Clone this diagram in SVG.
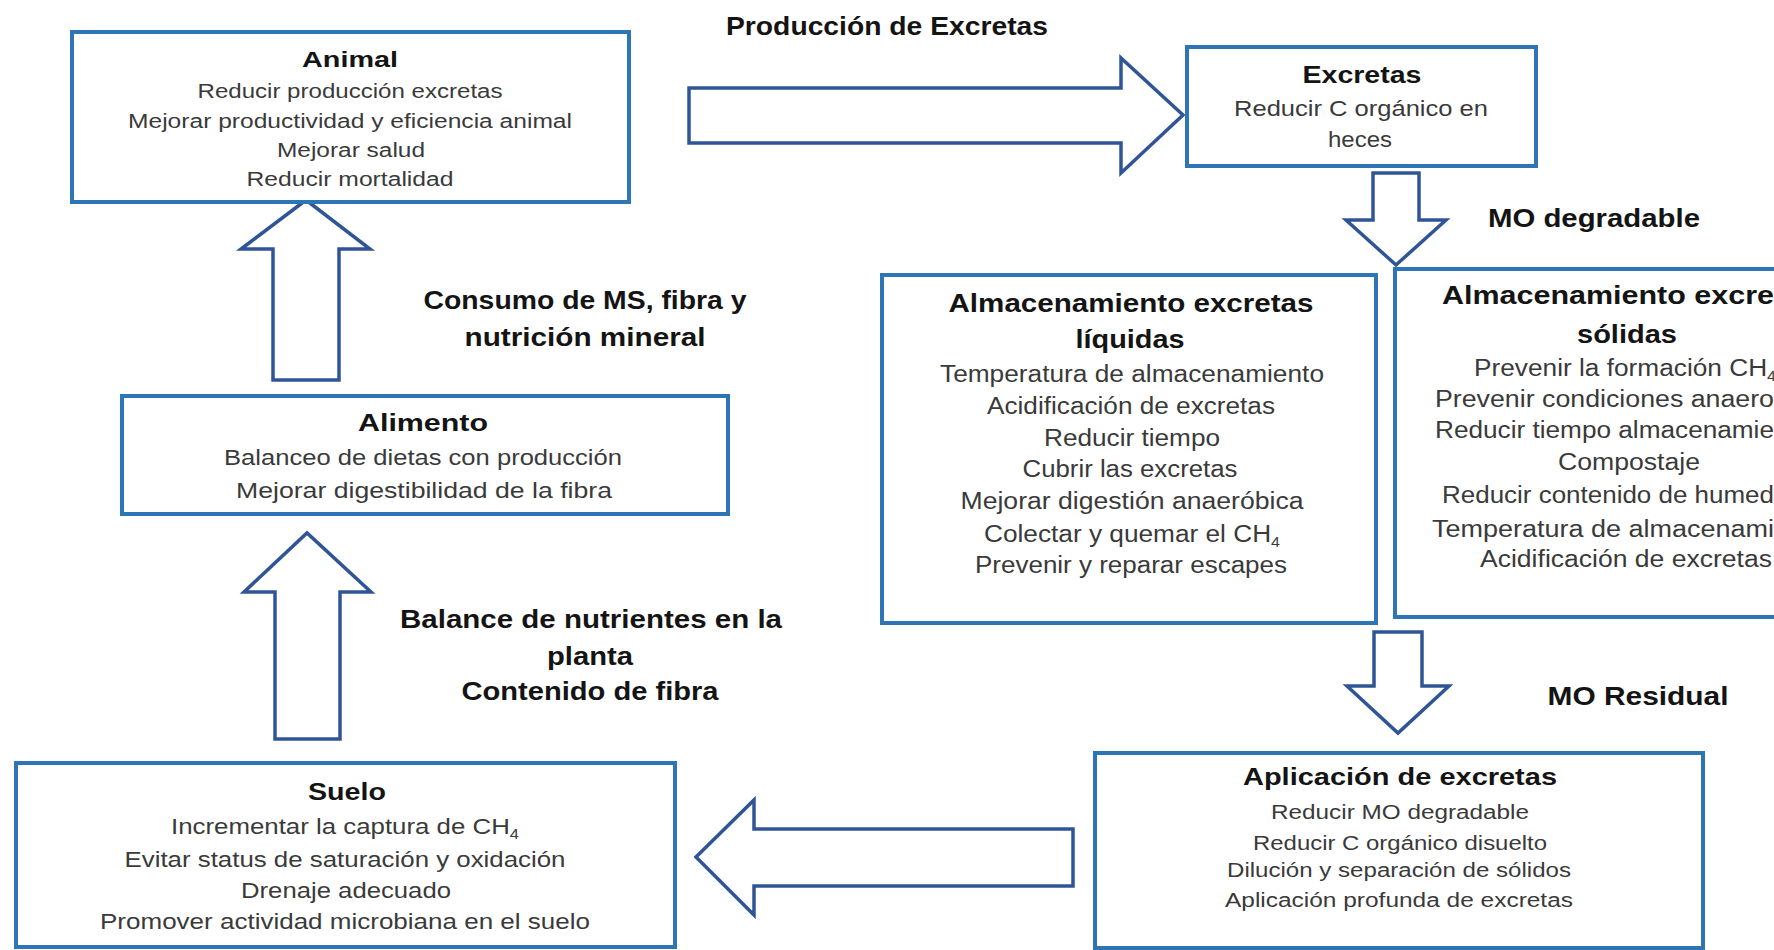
<svg xmlns="http://www.w3.org/2000/svg" width="1774" height="950" viewBox="0 0 1774 950">
<style>
.box{fill:#fff;stroke:#2E75B6;stroke-width:4}
.arr{fill:#fff;stroke:#2F5597;stroke-width:3.5;stroke-linejoin:miter}
text{font-family:"Liberation Sans",Arial,sans-serif;text-anchor:middle}
.t{font-weight:bold;fill:#141414}
.b{fill:#3a3a3a}
.lbl{font-weight:bold;fill:#141414;font-size:25px}
.st{text-anchor:start}
</style>
<rect x="0" y="0" width="1774" height="950" fill="#fff"/>

<g id="connectors">
  <path id="arrow-animal-excretas" class="arr" d="M689,88 L1121,88 L1121,58 L1183,115 L1121,173 L1121,143 L689,143 Z"/>
  <path id="arrow-excretas-almacenamiento" class="arr" d="M1373,173 L1419,173 L1419,220 L1446,220 L1396,265 L1346,220 L1373,220 Z"/>
  <path id="arrow-almacenamiento-aplicacion" class="arr" d="M1374,632 L1422,632 L1422,686 L1449,686 L1398,733 L1347,686 L1374,686 Z"/>
  <path id="arrow-aplicacion-suelo" class="arr" d="M1073,829 L754,829 L754,800 L696,857 L754,915 L754,886 L1073,886 Z"/>
  <path id="arrow-suelo-alimento" class="arr" d="M275,739 L275,592 L244,592 L307,533 L371,592 L340,592 L340,739 Z"/>
  <path id="arrow-alimento-animal" class="arr" d="M273,380 L273,249 L241,249 L306,200 L370,249 L339,249 L339,380 Z"/>
  <text class="lbl" x="887" y="35" textLength="322" lengthAdjust="spacingAndGlyphs">Producción de Excretas</text>
  <text class="lbl" x="1594" y="227" textLength="212" lengthAdjust="spacingAndGlyphs">MO degradable</text>
  <text class="lbl" x="1638" y="705" textLength="181" lengthAdjust="spacingAndGlyphs">MO Residual</text>
  <text class="lbl" x="585" y="309" textLength="323" lengthAdjust="spacingAndGlyphs">Consumo de MS, fibra y</text>
  <text class="lbl" x="585" y="346" textLength="241" lengthAdjust="spacingAndGlyphs">nutrición mineral</text>
  <text class="lbl" x="591" y="628" textLength="382" lengthAdjust="spacingAndGlyphs">Balance de nutrientes en  la</text>
  <text class="lbl" x="590" y="665" textLength="86" lengthAdjust="spacingAndGlyphs">planta</text>
  <text class="lbl" x="590" y="700" textLength="257" lengthAdjust="spacingAndGlyphs">Contenido de fibra</text>
</g>

<g id="animal">
  <rect class="box" x="72" y="32" width="557" height="170"/>
  <text class="t" x="350" y="67" font-size="22" textLength="96" lengthAdjust="spacingAndGlyphs">Animal</text>
  <text class="b" x="350" y="98" font-size="20" textLength="305" lengthAdjust="spacingAndGlyphs">Reducir producción excretas</text>
  <text class="b" x="350" y="128" font-size="20" textLength="444" lengthAdjust="spacingAndGlyphs">Mejorar productividad y eficiencia animal</text>
  <text class="b" x="351" y="157" font-size="20" textLength="148" lengthAdjust="spacingAndGlyphs">Mejorar salud</text>
  <text class="b" x="350" y="186" font-size="20" textLength="207" lengthAdjust="spacingAndGlyphs">Reducir mortalidad</text>
</g>

<g id="excretas">
  <rect class="box" x="1187" y="47" width="349" height="119"/>
  <text class="t" x="1362" y="83" font-size="23" textLength="119" lengthAdjust="spacingAndGlyphs">Excretas</text>
  <text class="b" x="1361" y="116" font-size="22" textLength="254" lengthAdjust="spacingAndGlyphs">Reducir C orgánico en</text>
  <text class="b" x="1360" y="147" font-size="22" textLength="64" lengthAdjust="spacingAndGlyphs">heces</text>
</g>

<g id="almacenamiento-liquidas">
  <rect class="box" x="882" y="275" width="494" height="348"/>
  <text class="t" x="1131" y="312" font-size="25" textLength="365" lengthAdjust="spacingAndGlyphs">Almacenamiento excretas</text>
  <text class="t" x="1130" y="348" font-size="25" textLength="109" lengthAdjust="spacingAndGlyphs">líquidas</text>
  <text class="b" x="1132" y="382" font-size="23" textLength="384" lengthAdjust="spacingAndGlyphs">Temperatura de almacenamiento</text>
  <text class="b" x="1131" y="414" font-size="23" textLength="288" lengthAdjust="spacingAndGlyphs">Acidificación de excretas</text>
  <text class="b" x="1132" y="446" font-size="23" textLength="176" lengthAdjust="spacingAndGlyphs">Reducir tiempo</text>
  <text class="b" x="1130" y="477" font-size="23" textLength="215" lengthAdjust="spacingAndGlyphs">Cubrir las excretas</text>
  <text class="b" x="1132" y="509" font-size="23" textLength="343" lengthAdjust="spacingAndGlyphs">Mejorar digestión anaeróbica</text>
  <text class="b" x="1132" y="542" font-size="23" textLength="296" lengthAdjust="spacingAndGlyphs">Colectar y quemar  el CH<tspan font-size="14" dy="5">4</tspan></text>
  <text class="b" x="1131" y="573" font-size="23" textLength="312" lengthAdjust="spacingAndGlyphs">Prevenir y reparar escapes</text>
</g>

<g id="almacenamiento-solidas">
  <rect class="box" x="1395" y="269" width="420" height="348"/>
  <text class="t st" x="1442" y="304" font-size="25" textLength="332" lengthAdjust="spacingAndGlyphs">Almacenamiento excre</text>
  <text class="t" x="1627" y="343" font-size="25" textLength="100" lengthAdjust="spacingAndGlyphs">sólidas</text>
  <text class="b st" x="1474" y="376" font-size="23" textLength="302" lengthAdjust="spacingAndGlyphs">Prevenir la formación CH<tspan font-size="14" dy="5">4</tspan></text>
  <text class="b st" x="1435" y="407" font-size="23" textLength="339" lengthAdjust="spacingAndGlyphs">Prevenir condiciones anaero</text>
  <text class="b st" x="1435" y="438" font-size="23" textLength="339" lengthAdjust="spacingAndGlyphs">Reducir tiempo almacenamie</text>
  <text class="b" x="1629" y="470" font-size="23" textLength="142" lengthAdjust="spacingAndGlyphs">Compostaje</text>
  <text class="b st" x="1442" y="503" font-size="23" textLength="332" lengthAdjust="spacingAndGlyphs">Reducir contenido de humed</text>
  <text class="b st" x="1432" y="537" font-size="23" textLength="342" lengthAdjust="spacingAndGlyphs">Temperatura de almacenami</text>
  <text class="b st" x="1480" y="567" font-size="23" textLength="292" lengthAdjust="spacingAndGlyphs">Acidificación de excretas</text>
</g>

<g id="alimento">
  <rect class="box" x="122" y="396" width="606" height="118"/>
  <text class="t" x="423" y="431" font-size="24" textLength="130" lengthAdjust="spacingAndGlyphs">Alimento</text>
  <text class="b" x="423" y="465" font-size="22" textLength="398" lengthAdjust="spacingAndGlyphs">Balanceo de dietas con producción</text>
  <text class="b" x="424" y="498" font-size="22" textLength="376" lengthAdjust="spacingAndGlyphs">Mejorar digestibilidad de la fibra</text>
</g>

<g id="suelo">
  <rect class="box" x="16" y="763" width="659" height="184"/>
  <text class="t" x="347" y="800" font-size="24" textLength="78" lengthAdjust="spacingAndGlyphs">Suelo</text>
  <text class="b" x="345" y="834" font-size="22" textLength="348" lengthAdjust="spacingAndGlyphs">Incrementar la captura de CH<tspan font-size="14" dy="5">4</tspan></text>
  <text class="b" x="345" y="867" font-size="22" textLength="441" lengthAdjust="spacingAndGlyphs">Evitar status de saturación y oxidación</text>
  <text class="b" x="346" y="898" font-size="22" textLength="210" lengthAdjust="spacingAndGlyphs">Drenaje adecuado</text>
  <text class="b" x="345" y="929" font-size="22" textLength="490" lengthAdjust="spacingAndGlyphs">Promover  actividad microbiana en el suelo</text>
</g>

<g id="aplicacion">
  <rect class="box" x="1095" y="753" width="608" height="195"/>
  <text class="t" x="1400" y="785" font-size="24" textLength="314" lengthAdjust="spacingAndGlyphs">Aplicación de excretas</text>
  <text class="b" x="1400" y="819" font-size="20" textLength="258" lengthAdjust="spacingAndGlyphs">Reducir MO degradable</text>
  <text class="b" x="1400" y="850" font-size="20" textLength="294" lengthAdjust="spacingAndGlyphs">Reducir C orgánico disuelto</text>
  <text class="b" x="1399" y="877" font-size="20" textLength="344" lengthAdjust="spacingAndGlyphs">Dilución y separación de sólidos</text>
  <text class="b" x="1399" y="907" font-size="20" textLength="348" lengthAdjust="spacingAndGlyphs">Aplicación profunda de excretas</text>
</g>
</svg>
